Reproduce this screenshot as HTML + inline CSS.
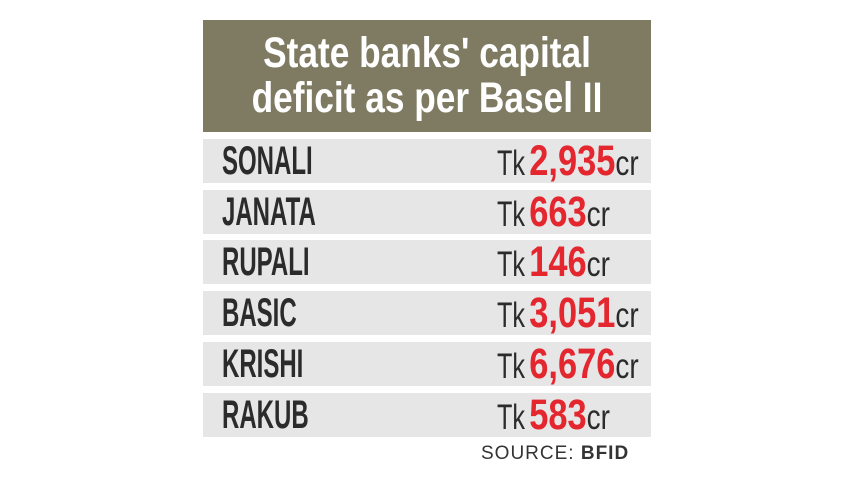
<!DOCTYPE html>
<html><head><style>
body{margin:0;width:857px;height:482px;background:#fff;position:relative;overflow:hidden;font-family:"Liberation Sans Narrow","Liberation Sans",sans-serif;}
.hd{position:absolute;left:203px;top:20px;width:448px;height:112px;background:#7e7b62;}
.tl{position:absolute;left:0;width:448px;text-align:center;color:#fff;font-weight:bold;font-size:43px;line-height:43px;transform:scaleX(0.82);}
.row{position:absolute;left:203px;width:448px;height:44px;background:#e6e6e7;}
.lb{position:absolute;left:19px;top:3px;font-weight:bold;font-size:40px;line-height:39px;color:#2b2b2b;transform:scaleX(0.6);transform-origin:left;}
.vl{position:absolute;left:294px;top:0px;white-space:nowrap;color:#2b2b2b;line-height:44px;transform:scaleX(0.8);transform-origin:left;}
.tk{font-size:35px;display:inline-block;transform:scaleX(0.9);transform-origin:left;margin-right:-3px;}
.n{font-size:43px;font-weight:bold;color:#e4262e;}
.cr{font-size:35px;}
.src{position:absolute;left:481px;top:443px;font-family:"Liberation Sans",sans-serif;font-size:19px;color:#333;letter-spacing:1px;}
</style></head><body>
<div class="hd">
<div class="tl" style="top:12px">State banks' capital</div>
<div class="tl" style="top:57px">deficit as per Basel II</div>
</div>
<div class="row" style="top:139px"><div class="lb">SONALI</div><div class="vl"><span class="tk">Tk</span> <span class="n">2,935</span><span class="cr">cr</span></div></div>
<div class="row" style="top:190px"><div class="lb">JANATA</div><div class="vl"><span class="tk">Tk</span> <span class="n">663</span><span class="cr">cr</span></div></div>
<div class="row" style="top:240px"><div class="lb">RUPALI</div><div class="vl"><span class="tk">Tk</span> <span class="n">146</span><span class="cr">cr</span></div></div>
<div class="row" style="top:291px"><div class="lb">BASIC</div><div class="vl"><span class="tk">Tk</span> <span class="n">3,051</span><span class="cr">cr</span></div></div>
<div class="row" style="top:342px"><div class="lb">KRISHI</div><div class="vl"><span class="tk">Tk</span> <span class="n">6,676</span><span class="cr">cr</span></div></div>
<div class="row" style="top:393px"><div class="lb">RAKUB</div><div class="vl"><span class="tk">Tk</span> <span class="n">583</span><span class="cr">cr</span></div></div>
<div class="src">SOURCE: <b>BFID</b></div>
</body></html>
